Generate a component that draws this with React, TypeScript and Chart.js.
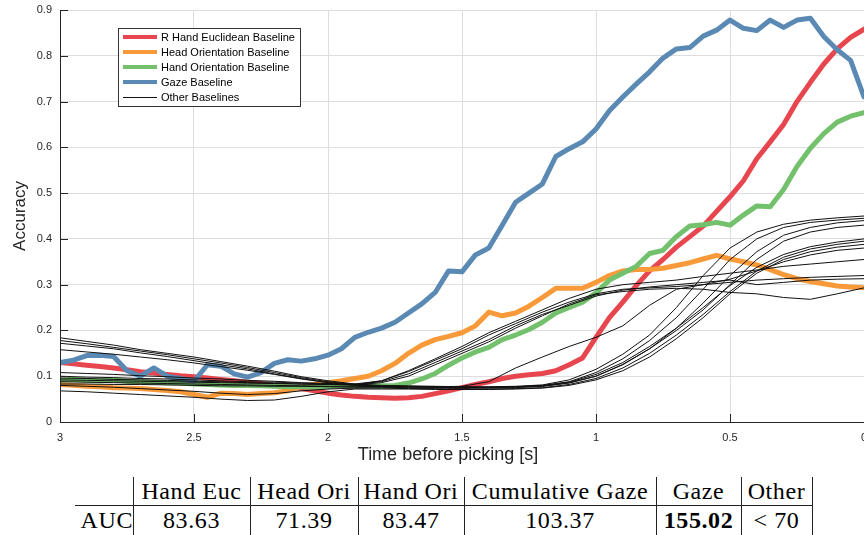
import React, { useEffect, useRef } from "react";
import { Chart, registerables } from "chart.js";

Chart.register(...registerables);

// ---------- data ----------
const T_MAIN = [
  3.0, 2.95, 2.9, 2.85, 2.8, 2.75, 2.7, 2.65, 2.6, 2.55, 2.5, 2.45, 2.4, 2.35, 2.3, 2.25, 2.2, 2.15, 2.1, 2.05,
  2.0, 1.95, 1.9, 1.85, 1.8, 1.75, 1.7, 1.65, 1.6, 1.55, 1.5, 1.45, 1.4, 1.35, 1.3, 1.25, 1.2, 1.15, 1.1, 1.05,
  1.0, 0.95, 0.9, 0.85, 0.8, 0.75, 0.7, 0.65, 0.6, 0.55, 0.5, 0.45, 0.4, 0.35, 0.3, 0.25, 0.2, 0.15, 0.1, 0.05, 0.0,
];

const R_HAND_EUCLIDEAN = [
  0.130, 0.127, 0.124, 0.121, 0.118, 0.114, 0.110, 0.107, 0.104, 0.101, 0.099, 0.096, 0.093, 0.090, 0.087, 0.084, 0.080, 0.077, 0.073, 0.068,
  0.063, 0.059, 0.056, 0.054, 0.053, 0.052, 0.053, 0.056, 0.062, 0.068, 0.075, 0.082, 0.088, 0.095, 0.100, 0.103, 0.106, 0.112, 0.125, 0.140,
  0.185, 0.228, 0.262, 0.298, 0.330, 0.355, 0.382, 0.405, 0.428, 0.460, 0.492, 0.527, 0.575, 0.612, 0.650, 0.700, 0.742, 0.782, 0.815, 0.840, 0.858,
];

const HEAD_ORIENTATION = [
  0.082, 0.080, 0.078, 0.077, 0.075, 0.074, 0.073, 0.071, 0.069, 0.066, 0.060, 0.054, 0.063, 0.062, 0.060, 0.062, 0.064, 0.068, 0.078, 0.082,
  0.086, 0.090, 0.095, 0.100, 0.112, 0.128, 0.150, 0.168, 0.180, 0.187, 0.195, 0.210, 0.240, 0.232, 0.238, 0.253, 0.272, 0.292, 0.292, 0.292,
  0.305, 0.320, 0.330, 0.333, 0.333, 0.336, 0.342, 0.348, 0.356, 0.364, 0.356, 0.350, 0.343, 0.333, 0.322, 0.313, 0.307, 0.302, 0.297, 0.295, 0.293,
];

const HAND_ORIENTATION = [
  0.092, 0.093, 0.091, 0.090, 0.092, 0.089, 0.088, 0.087, 0.086, 0.085, 0.083, 0.082, 0.081, 0.080, 0.080, 0.079, 0.078, 0.077, 0.077, 0.076,
  0.077, 0.078, 0.078, 0.079, 0.079, 0.080, 0.085, 0.094, 0.106, 0.124, 0.140, 0.153, 0.163, 0.180, 0.190, 0.202, 0.218, 0.238, 0.250, 0.262,
  0.282, 0.310, 0.325, 0.340, 0.368, 0.375, 0.405, 0.428, 0.431, 0.436, 0.430, 0.452, 0.472, 0.470, 0.508, 0.558, 0.598, 0.630, 0.655, 0.668, 0.676,
];

const GAZE = [
  0.130, 0.135, 0.145, 0.146, 0.143, 0.112, 0.100, 0.118, 0.100, 0.095, 0.089, 0.125, 0.122, 0.105, 0.098, 0.108, 0.128, 0.136, 0.133, 0.138,
  0.146, 0.160, 0.185, 0.196, 0.205, 0.218, 0.238, 0.258, 0.283, 0.330, 0.328, 0.365, 0.380, 0.430, 0.480, 0.500, 0.520, 0.580, 0.597, 0.612,
  0.640, 0.680, 0.710, 0.738, 0.765, 0.795, 0.815, 0.818, 0.843, 0.856, 0.878, 0.860, 0.855, 0.878, 0.862, 0.878, 0.882, 0.842, 0.813, 0.790, 0.710,
];

const T_OTHER = [
  3.0, 2.9, 2.8, 2.7, 2.6, 2.5, 2.4, 2.3, 2.2, 2.1, 2.0, 1.9, 1.8, 1.7, 1.6, 1.5,
  1.4, 1.3, 1.2, 1.1, 1.0, 0.9, 0.8, 0.7, 0.6, 0.5, 0.4, 0.3, 0.2, 0.1, 0.0,
];

const OTHER_1 = [0.184, 0.176, 0.168, 0.158, 0.150, 0.142, 0.132, 0.122, 0.111, 0.099, 0.090, 0.083, 0.080, 0.079, 0.078, 0.077, 0.077, 0.078, 0.081, 0.092, 0.115, 0.148, 0.190, 0.250, 0.320, 0.380, 0.415, 0.432, 0.441, 0.446, 0.450];
const OTHER_2 = [0.178, 0.171, 0.163, 0.155, 0.147, 0.138, 0.129, 0.119, 0.108, 0.097, 0.088, 0.082, 0.079, 0.078, 0.077, 0.076, 0.076, 0.077, 0.080, 0.088, 0.108, 0.138, 0.178, 0.228, 0.290, 0.355, 0.400, 0.425, 0.436, 0.441, 0.445];
const OTHER_3 = [0.172, 0.166, 0.160, 0.151, 0.143, 0.134, 0.125, 0.116, 0.105, 0.095, 0.086, 0.081, 0.078, 0.077, 0.076, 0.075, 0.075, 0.076, 0.078, 0.085, 0.100, 0.125, 0.160, 0.205, 0.260, 0.320, 0.372, 0.408, 0.425, 0.435, 0.440];
const OTHER_4 = [0.158, 0.153, 0.148, 0.142, 0.136, 0.129, 0.121, 0.113, 0.104, 0.094, 0.086, 0.080, 0.078, 0.077, 0.076, 0.076, 0.076, 0.077, 0.079, 0.087, 0.104, 0.130, 0.165, 0.205, 0.250, 0.298, 0.338, 0.366, 0.383, 0.393, 0.400];
const OTHER_5 = [0.108, 0.106, 0.104, 0.101, 0.099, 0.096, 0.094, 0.091, 0.089, 0.086, 0.084, 0.083, 0.090, 0.110, 0.135, 0.160, 0.190, 0.215, 0.240, 0.262, 0.280, 0.290, 0.293, 0.296, 0.300, 0.305, 0.310, 0.313, 0.316, 0.318, 0.320];
const OTHER_6 = [0.100, 0.098, 0.097, 0.095, 0.094, 0.092, 0.090, 0.088, 0.087, 0.085, 0.083, 0.082, 0.088, 0.105, 0.130, 0.155, 0.180, 0.210, 0.235, 0.255, 0.275, 0.288, 0.295, 0.300, 0.305, 0.310, 0.300, 0.305, 0.310, 0.312, 0.313];
const OTHER_7 = [0.096, 0.095, 0.093, 0.092, 0.091, 0.089, 0.088, 0.086, 0.085, 0.083, 0.082, 0.081, 0.086, 0.100, 0.125, 0.150, 0.175, 0.205, 0.232, 0.258, 0.278, 0.285, 0.290, 0.292, 0.290, 0.283, 0.280, 0.272, 0.268, 0.280, 0.293];
const OTHER_8 = [0.092, 0.091, 0.090, 0.089, 0.088, 0.087, 0.086, 0.085, 0.084, 0.083, 0.082, 0.081, 0.090, 0.112, 0.138, 0.165, 0.195, 0.220, 0.245, 0.270, 0.290, 0.300, 0.305, 0.310, 0.318, 0.325, 0.332, 0.340, 0.345, 0.350, 0.355];
const OTHER_9 = [0.088, 0.087, 0.086, 0.085, 0.084, 0.083, 0.082, 0.081, 0.080, 0.079, 0.078, 0.078, 0.077, 0.077, 0.077, 0.078, 0.088, 0.118, 0.142, 0.165, 0.185, 0.210, 0.255, 0.290, 0.300, 0.312, 0.330, 0.350, 0.365, 0.375, 0.380];
const OTHER_10 = [0.083, 0.083, 0.082, 0.082, 0.081, 0.080, 0.079, 0.079, 0.078, 0.078, 0.077, 0.076, 0.076, 0.075, 0.075, 0.074, 0.074, 0.075, 0.078, 0.086, 0.100, 0.126, 0.160, 0.200, 0.245, 0.300, 0.355, 0.395, 0.415, 0.425, 0.430];
const OTHER_11 = [0.080, 0.078, 0.076, 0.073, 0.070, 0.067, 0.063, 0.060, 0.062, 0.068, 0.072, 0.074, 0.074, 0.073, 0.073, 0.072, 0.072, 0.073, 0.075, 0.082, 0.095, 0.118, 0.150, 0.190, 0.235, 0.285, 0.330, 0.360, 0.378, 0.388, 0.395];
const OTHER_12 = [0.068, 0.066, 0.063, 0.060, 0.057, 0.054, 0.050, 0.047, 0.048, 0.056, 0.066, 0.072, 0.072, 0.072, 0.071, 0.071, 0.071, 0.072, 0.074, 0.080, 0.092, 0.112, 0.142, 0.182, 0.228, 0.280, 0.325, 0.355, 0.372, 0.382, 0.388];

const OTHER_SERIES = [OTHER_1, OTHER_2, OTHER_3, OTHER_4, OTHER_5, OTHER_6, OTHER_7, OTHER_8, OTHER_9, OTHER_10, OTHER_11, OTHER_12];

const LEGEND_LABELS = ["R Hand Euclidean Baseline", "Head Orientation Baseline", "Hand Orientation Baseline", "Gaze Baseline", "Other Baselines"];
const COLORS = ["#e8464f", "#f89a3a", "#74c16d", "#5a8ab3", "#111111"];

const X_TICKS = [3, 2.5, 2, 1.5, 1, 0.5, 0];
const Y_TICKS = [0, 0.1, 0.2, 0.3, 0.4, 0.5, 0.6, 0.7, 0.8, 0.9];
const X_TITLE = "Time before picking [s]";
const Y_TITLE = "Accuracy";

const TABLE_HEADERS = ["", "Hand Euc", "Head Ori", "Hand Ori", "Cumulative Gaze", "Gaze", "Other"];
const TABLE_ROW = ["AUC", "83.63", "71.39", "83.47", "103.37", "155.02", "< 70"];
const TABLE_BOLD_INDEX = 5;

// ---------- layout constants ----------
const COL_EDGES = [75, 133, 250, 358, 464, 656, 741, 812];

const toPoints = (ts: number[], vs: number[]) => ts.map((t, i) => ({ x: t, y: vs[i] }));

const AXIS_COLOR = "#262626";
const FONT = "'Liberation Sans', Arial, Helvetica, sans-serif";

const axisPlugin = {
  id: "matlabAxes",
  afterDraw(chart: any) {
    const { ctx, chartArea, scales } = chart;
    const { left, bottom, top, right } = chartArea;
    ctx.save();
    ctx.strokeStyle = AXIS_COLOR;
    ctx.lineWidth = 1;
    // inward ticks
    ctx.beginPath();
    X_TICKS.forEach((v) => {
      const px = Math.round(scales.x.getPixelForValue(v)) + 0.5;
      ctx.moveTo(px, bottom);
      ctx.lineTo(px, bottom - 8);
    });
    Y_TICKS.forEach((v) => {
      const py = Math.round(scales.y.getPixelForValue(v)) + 0.5;
      ctx.moveTo(left, py);
      ctx.lineTo(left + 8, py);
    });
    ctx.stroke();
    // axes
    ctx.beginPath();
    ctx.moveTo(left + 0.5, top);
    ctx.lineTo(left + 0.5, bottom + 0.5);
    ctx.lineTo(right, bottom + 0.5);
    ctx.stroke();

    // x-axis title (slightly left of centre, as in the source figure)
    ctx.fillStyle = AXIS_COLOR;
    ctx.font = `18px ${FONT}`;
    ctx.textAlign = "center";
    ctx.textBaseline = "middle";
    ctx.fillText(X_TITLE, (left + right) / 2 - 14, bottom + 33);

    // legend
    const bx = 118.5, by = 28.5, bw = 182, bh = 78;
    ctx.fillStyle = "#ffffff";
    ctx.fillRect(bx, by, bw, bh);
    ctx.strokeStyle = "#333333";
    ctx.strokeRect(bx, by, bw, bh);
    ctx.font = `11px ${FONT}`;
    ctx.textBaseline = "middle";
    ctx.textAlign = "left";
    LEGEND_LABELS.forEach((label, i) => {
      const y = 37 + i * 15;
      ctx.beginPath();
      ctx.strokeStyle = COLORS[i];
      ctx.lineWidth = i < 4 ? 4 : 1;
      ctx.lineCap = "butt";
      ctx.moveTo(123, y + (i < 4 ? 0 : 0.5));
      ctx.lineTo(157, y + (i < 4 ? 0 : 0.5));
      ctx.stroke();
      ctx.fillStyle = "#000000";
      ctx.fillText(label, 161, y + 0.5);
    });
    ctx.restore();
  },
};

function PlotCanvas() {
  const ref = useRef<HTMLCanvasElement | null>(null);
  useEffect(() => {
    if (!ref.current) return;
    const colored = [R_HAND_EUCLIDEAN, HEAD_ORIENTATION, HAND_ORIENTATION, GAZE].map((vals, i) => ({
      label: LEGEND_LABELS[i],
      data: toPoints(T_MAIN, vals),
      borderColor: COLORS[i],
      backgroundColor: COLORS[i],
      borderWidth: 5,
      borderJoinStyle: "round" as const,
      borderCapStyle: "round" as const,
      pointRadius: 0,
      order: 4 - i,
    }));
    const others = OTHER_SERIES.map((vals, i) => ({
      label: i === 0 ? LEGEND_LABELS[4] : `${LEGEND_LABELS[4]} ${i + 1}`,
      data: toPoints(T_OTHER, vals),
      borderColor: COLORS[4],
      backgroundColor: COLORS[4],
      borderWidth: 1,
      pointRadius: 0,
      order: 0,
    }));
    const chart = new Chart(ref.current, {
      type: "line",
      data: { datasets: [...colored, ...others] as any },
      options: {
        responsive: false,
        animation: false,
        devicePixelRatio: 1,
        layout: { padding: { top: 10, left: 0, right: 0, bottom: 0 } },
        plugins: { legend: { display: false }, tooltip: { enabled: false } },
        elements: { line: { tension: 0 } },
        scales: {
          x: {
            type: "linear",
            min: 0,
            max: 3,
            reverse: true,
            afterBuildTicks: (s: any) => {
              s.ticks = X_TICKS.map((v) => ({ value: v }));
            },
            ticks: {
              color: AXIS_COLOR,
              font: { size: 11, family: FONT },
              padding: 9,
              maxRotation: 0,
              autoSkip: false,
              callback: (v: any) => String(Number(v)),
            },
            grid: { color: "#dedede", drawTicks: false },
            border: { display: false },
            title: { display: false, text: X_TITLE },
            afterFit: (s: any) => {
              s.height = 48;
              s.paddingLeft = 0;
              s.paddingRight = 0;
            },
          },
          y: {
            min: 0,
            max: 0.9,
            afterBuildTicks: (s: any) => {
              s.ticks = Y_TICKS.map((v) => ({ value: v }));
            },
            ticks: {
              color: AXIS_COLOR,
              font: { size: 11, family: FONT },
              padding: 8,
              callback: (v: any) => String(Number(v)),
            },
            grid: { color: "#dedede", drawTicks: false },
            border: { display: false },
            title: {
              display: true,
              text: Y_TITLE,
              color: AXIS_COLOR,
              font: { size: 17, family: FONT },
              padding: { top: 10, bottom: 0 },
            },
            afterFit: (s: any) => {
              s.width = 60;
              s.paddingTop = 0;
              s.paddingBottom = 0;
            },
          },
        },
      },
      plugins: [axisPlugin],
    });
    return () => chart.destroy();
  }, []);
  return <canvas ref={ref} width={864} height={470} style={{ position: "absolute", left: 0, top: 0 }} />;
}

function AucTable() {
  const top = 477;
  const mid = 505;
  const bottom = 540;
  const cellFont: React.CSSProperties = {
    position: "absolute",
    fontFamily: "'Liberation Serif', 'Times New Roman', serif",
    fontSize: 24,
    letterSpacing: 0.6,
    color: "#000",
    whiteSpace: "nowrap",
    lineHeight: "28px",
    textAlign: "center",
  };
  const cells: React.ReactNode[] = [];
  TABLE_HEADERS.forEach((h, i) => {
    const l = COL_EDGES[i];
    const w = COL_EDGES[i + 1] - l;
    cells.push(
      <div key={`h${i}`} style={{ ...cellFont, left: l, width: w, top: top, height: 28 }}>
        {h}
      </div>
    );
    cells.push(
      <div
        key={`r${i}`}
        style={{
          ...cellFont,
          left: l,
          width: w,
          top: mid + 1,
          height: 28,
          fontWeight: i === TABLE_BOLD_INDEX ? "bold" : "normal",
          textAlign: i === 0 ? "right" : "center",
        }}
      >
        {TABLE_ROW[i]}
      </div>
    );
  });
  const lines: React.ReactNode[] = [];
  COL_EDGES.slice(1).forEach((x, i) => {
    lines.push(
      <div key={`v${i}`} style={{ position: "absolute", left: x, top: top, width: 1, height: bottom - top, background: "#222" }} />
    );
  });
  lines.push(
    <div key="hline" style={{ position: "absolute", left: COL_EDGES[0], top: mid, width: COL_EDGES[7] - COL_EDGES[0] + 1, height: 1, background: "#222" }} />
  );
  return (
    <>
      {cells}
      {lines}
    </>
  );
}

export default function App() {
  return (
    <div
      style={{
        position: "absolute",
        left: 0,
        top: 0,
        width: 864,
        height: 535,
        overflow: "hidden",
        background: "#ffffff",
      }}
    >
      <PlotCanvas />
      <AucTable />
    </div>
  );
}
